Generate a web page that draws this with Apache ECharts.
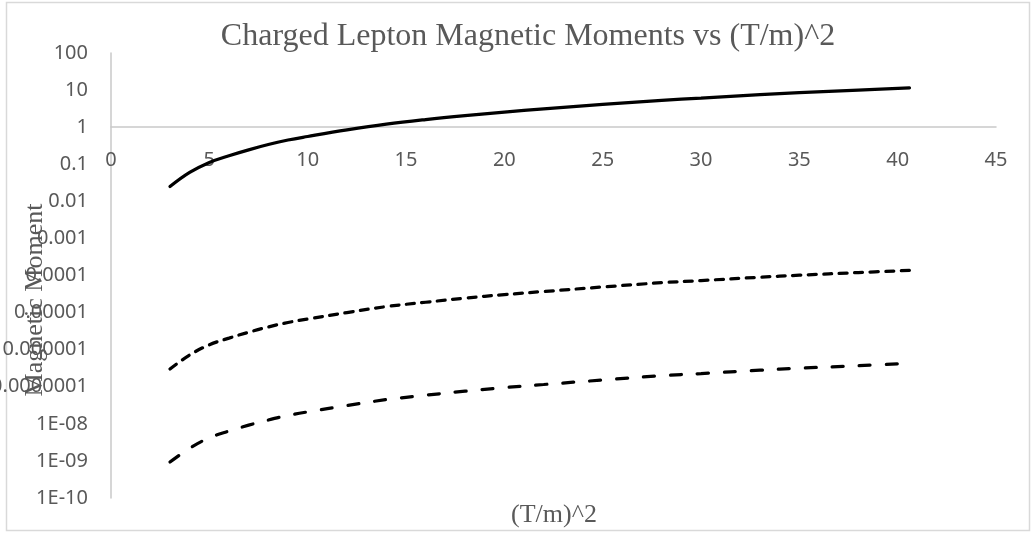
<!DOCTYPE html>
<html>
<head>
<meta charset="utf-8">
<title>Charged Lepton Magnetic Moments</title>
<script src="https://cdn.jsdelivr.net/npm/echarts@6/dist/echarts.min.js"></script>
<style>
    html, body { margin: 0; padding: 0; background: #ffffff; }
    #chart { width: 1036px; height: 533px; }
</style>
</head>
<body>
<div id="chart"></div>
<script>
// (T/m)^2 values along the x axis
var xValues = [3, 4, 5, 6, 7, 8, 9, 10, 12, 14, 16, 18, 20, 22, 25, 28, 30, 33, 35, 38, 40.6];
// solid line
var solidValues = [0.025, 0.060, 0.112, 0.17, 0.245, 0.34, 0.45, 0.56, 0.84, 1.2, 1.6, 2.05, 2.55, 3.1, 4.1, 5.3, 6.1, 7.5, 8.5, 10.0, 11.5];
// short dashes
var shortDashValues = [3.0e-7, 7.2e-7, 1.35e-6, 2.05e-6, 2.95e-6, 4.1e-6, 5.4e-6, 6.7e-6, 1.0e-5, 1.45e-5, 1.9e-5, 2.45e-5, 3.05e-5, 3.7e-5, 4.9e-5, 6.4e-5, 7.3e-5, 9.0e-5, 1.02e-4, 1.2e-4, 1.38e-4];
// long dashes
var longDashValues = [9.3e-10, 2.2e-9, 4.2e-9, 6.4e-9, 9.2e-9, 1.27e-8, 1.68e-8, 2.1e-8, 3.1e-8, 4.5e-8, 5.9e-8, 7.6e-8, 9.5e-8, 1.15e-7, 1.52e-7, 2.0e-7, 2.27e-7, 2.8e-7, 3.16e-7, 3.7e-7, 4.3e-7];
// y tick labels, from 1E-10 up to 100
var yTickLabels = ['1E-10', '1E-09', '1E-08', '0.0000001', '0.000001', '0.00001', '0.0001', '0.001', '0.01', '0.1', '1', '10', '100'];

function pairs(ys) {
    var out = [];
    for (var i = 0; i < xValues.length; i++) {
        out.push([xValues[i], ys[i]]);
    }
    return out;
}

var myChart = echarts.init(document.getElementById('chart'), null, {renderer: 'canvas'});

var labelFont = 'Noto Sans';
var labelColor = '#595959';
var axisColor = '#c9c9c9';

myChart.setOption({
    animation: false,
    backgroundColor: '#ffffff',
    title: {
        text: 'Charged Lepton Magnetic Moments vs (T/m)^2',
        left: 528,
        textAlign: 'center',
        top: 21,
        padding: 0,
        textStyle: {
            fontFamily: 'Liberation Serif',
            fontSize: 32,
            fontWeight: 'normal',
            color: labelColor
        }
    },
    grid: {
        left: 111,
        right: 40,
        top: 53,
        bottom: 35,
        outerBoundsMode: 'none',
        containLabel: false
    },
    xAxis: {
        type: 'value',
        min: 0,
        max: 45,
        interval: 5,
        position: 'bottom',
        offset: -371, // the axis crosses at y = 1
        axisLine: {onZero: false, lineStyle: {color: axisColor, width: 1.5}},
        axisTick: {show: false},
        splitLine: {show: false},
        axisLabel: {
            margin: 23,
            fontFamily: labelFont,
            fontSize: 20,
            color: labelColor
        }
    },
    yAxis: {
        type: 'log',
        logBase: 10,
        min: 1e-10,
        max: 100,
        interval: 1,
        axisLine: {show: true, lineStyle: {color: axisColor, width: 1.5}},
        axisTick: {show: false},
        splitLine: {show: false},
        axisLabel: {
            margin: 23,
            fontFamily: labelFont,
            fontSize: 20,
            color: labelColor,
            formatter: function (v) {
                var e = Math.round(Math.log10(v));
                return yTickLabels[e + 10];
            }
        }
    },
    graphic: [
        { // chart area border
            type: 'rect',
            shape: {x: 6.5, y: 2.5, width: 1023, height: 528},
            style: {fill: 'none', stroke: '#d9d9d9', lineWidth: 1.5},
            z: -1
        },
        {
            type: 'text',
            x: 35,
            y: 300,
            rotation: Math.PI / 2,
            style: {
                text: 'Magnetic Moment',
                fontFamily: 'Liberation Serif',
                fontSize: 26,
                fill: labelColor,
                align: 'center',
                verticalAlign: 'middle'
            },
            z: 5
        },
        {
            type: 'text',
            x: 554,
            y: 515,
            style: {
                text: '(T/m)^2',
                fontFamily: 'Liberation Serif',
                fontSize: 26,
                fill: labelColor,
                align: 'center',
                verticalAlign: 'middle'
            }
        }
    ],
    series: [
        {
            name: 'Series1',
            type: 'line',
            smooth: 0.4,
            showSymbol: false,
            lineStyle: {color: '#000000', width: 3.25, cap: 'round'},
            data: pairs(solidValues)
        },
        {
            name: 'Series2',
            type: 'line',
            smooth: 0.4,
            showSymbol: false,
            lineStyle: {color: '#000000', width: 3.25, type: [8, 7.5], cap: 'round'},
            data: pairs(shortDashValues)
        },
        {
            name: 'Series3',
            type: 'line',
            smooth: 0.4,
            showSymbol: false,
            lineStyle: {color: '#000000', width: 3.25, type: [11, 16], cap: 'round'},
            data: pairs(longDashValues)
        }
    ]
});
</script>
</body>
</html>
